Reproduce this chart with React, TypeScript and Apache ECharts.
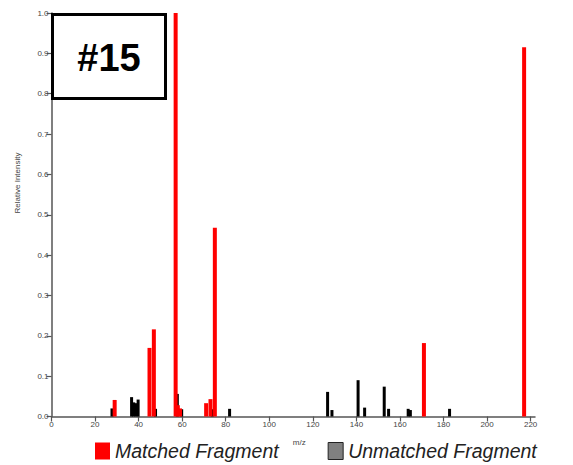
import React, { useEffect, useRef } from "react";
import * as echarts from "echarts";

const xTicks = [0, 20, 40, 60, 80, 100, 120, 140, 160, 180, 200, 220];
const matchedMz = [29, 45, 47, 57, 58, 59, 71, 73, 75, 171, 217];
const matchedInt = [0.041, 0.17, 0.216, 1.0, 0.028, 0.02, 0.033, 0.043, 0.468, 0.182, 0.915];
const unmatchedMz = [28, 37, 38, 39, 40, 48, 58, 60, 74, 82, 127, 129, 141, 144, 153, 155, 164, 165, 183];
const unmatchedInt = [0.02, 0.048, 0.035, 0.033, 0.042, 0.019, 0.056, 0.018, 0.018, 0.019, 0.061, 0.016, 0.09, 0.022, 0.074, 0.019, 0.019, 0.016, 0.019];
const seriesNames = ["Matched Fragment", "Unmatched Fragment"];
const labelText = "#15";

export default function App() {
  const ref = useRef<HTMLDivElement>(null);
  useEffect(() => {
    if (!ref.current) return;
    const chart = echarts.init(ref.current, null, { renderer: "svg" });
    const font = "Liberation Sans";
    chart.setOption({
      animation: false,
      backgroundColor: "#fff",
      grid: { left: 51.5, right: 38, top: 13, bottom: 48.5, containLabel: false },
      xAxis: {
        type: "value",
        min: 0,
        max: 222,
        interval: 20,
        name: "m/z",
        nameLocation: "middle",
        nameGap: 22,
        nameTextStyle: { fontSize: 8, color: "#444", fontFamily: font, padding: [0, 0, 0, 12] },
        axisLine: { show: true, lineStyle: { color: "#555", width: 1.5 } },
        axisTick: { show: true, length: 5, customValues: xTicks, lineStyle: { color: "#555", width: 1.2 } },
        axisLabel: { customValues: xTicks, fontSize: 8, color: "#444", fontFamily: font, margin: 4 },
        splitLine: { show: false },
      },
      yAxis: {
        type: "value",
        min: 0,
        max: 1,
        interval: 0.1,
        axisLine: { show: true, lineStyle: { color: "#555", width: 1.5 } },
        axisTick: { show: true, length: 5, lineStyle: { color: "#555", width: 1.2 } },
        axisLabel: {
          fontSize: 8,
          color: "#444",
          fontFamily: font,
          margin: 3,
          formatter: (v: number) => v.toFixed(1),
        },
        splitLine: { show: false },
      },
      legend: {
        left: 95,
        top: 441,
        padding: 0,
        itemWidth: 15,
        itemHeight: 17,
        itemGap: 49,
        icon: "rect",
        textStyle: { fontSize: 19.5, lineHeight: 20, fontStyle: "italic", color: "#222", fontFamily: font },
        data: [
          { name: seriesNames[0], itemStyle: { color: "#ff0000" } },
          { name: seriesNames[1], itemStyle: { color: "#808080", borderColor: "#222", borderWidth: 1 } },
        ],
      },
      graphic: [
        {
          type: "text",
          x: 17,
          y: 183,
          rotation: Math.PI / 2,
          style: {
            text: "Relative Intensity",
            fontSize: 8,
            fill: "#444",
            fontFamily: font,
            align: "center",
            verticalAlign: "middle",
          },
        },
        {
          type: "rect",
          z: 100,
          shape: { x: 52.5, y: 14.5, width: 113, height: 84 },
          style: { fill: "#fff", stroke: "#000", lineWidth: 3 },
        },
        {
          type: "text",
          z: 101,
          x: 109,
          y: 58,
          style: {
            text: labelText,
            fontSize: 38,
            fontWeight: "bold",
            fill: "#000",
            fontFamily: font,
            align: "center",
            verticalAlign: "middle",
          },
        },
      ],
      series: [
        {
          name: seriesNames[1],
          type: "bar",
          barWidth: 3,
          barGap: "-100%",
          itemStyle: { color: "#000" },
          data: unmatchedMz.map((m, i) => [m, unmatchedInt[i]]),
        },
        {
          name: seriesNames[0],
          type: "bar",
          barWidth: 4,
          barGap: "-100%",
          itemStyle: { color: "#ff0000" },
          data: matchedMz.map((m, i) => [m, matchedInt[i]]),
        },
      ],
    });
    return () => chart.dispose();
  }, []);
  return (
    <div
      ref={ref}
      style={{ position: "fixed", left: 0, top: 0, width: 573, height: 465, background: "#fff" }}
    />
  );
}
